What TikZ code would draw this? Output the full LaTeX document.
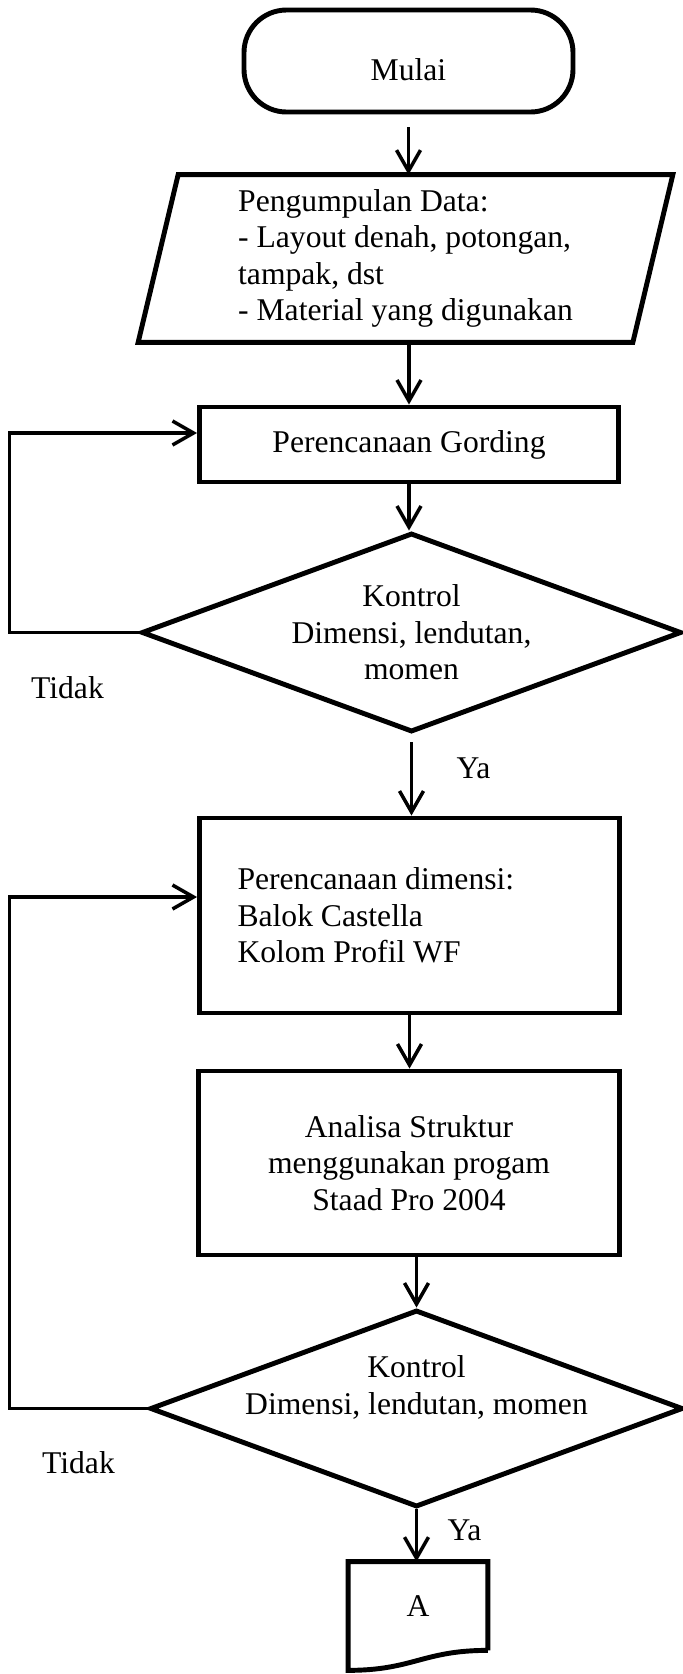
\documentclass[tikz,border=0pt]{standalone}
\usepackage{fontspec}
\setmainfont{Liberation Serif}
\usepackage{tikz}
\usetikzlibrary{shapes.geometric,arrows.meta}

\begin{document}
\begin{tikzpicture}
[font=\fontsize{18}{20.7}\selectfont]
\tikzset{
	terminal/.style = {rectangle, draw, line width = 2.8pt, rounded corners = 0.85cm, minimum width = 6.58cm, minimum height = 2.04cm, text height = 0.8cm},
	datain/.style = {rectangle, align = left, minimum width = 9.88cm, minimum height = 3.34cm},
	process/.style = {rectangle, draw, line width = 2.8pt},
	decision/.style = {diamond, draw, line width = 2.8pt, inner sep = 0pt, align = center, aspect = 2.71},
	docshape/.style = {rectangle, minimum width = 2.78cm, minimum height = 1.76cm},
	flow/.style = {line width = 2pt, -{Straight Barb[length=0.42cm,width=0.48cm]}}
}
\useasboundingbox (0,0) rectangle (13.66,-33.48);

\node(mulai) [terminal] at (8.17,-1.22) {Mulai};
\node(data) [datain] at (8.11,-5.17) {Pengumpulan Data:\\- Layout denah, potongan,\\tampak, dst\\- Material yang digunakan};
\draw [line width = 2.8pt] ([xshift=0.4cm]data.north west) -- ([xshift=0.4cm]data.north east)
	-- ([xshift=-0.4cm]data.south east) -- ([xshift=-0.4cm]data.south west) -- cycle;
\node(gording) [process, minimum width = 8.38cm, minimum height = 1.5cm] at (8.18,-8.89) {Perencanaan Gording};
\node(dk1) [decision, minimum width = 10.8cm, minimum height = 3.98cm] at (8.23,-12.65) {Kontrol\\Dimensi, lendutan,\\momen};
\node(dimensi) [process, minimum width = 8.4cm, minimum height = 3.9cm, text width = 6.88cm, align = flush left] at (8.19,-18.31) {Perencanaan dimensi:\\Balok Castella\\Kolom Profil WF};
\node(analisa) [process, minimum width = 8.42cm, minimum height = 3.68cm, align = center] at (8.18,-23.26) {Analisa Struktur\\menggunakan progam\\Staad Pro 2004};
\node(dk2) [decision, minimum width = 10.66cm, minimum height = 3.94cm] at (8.33,-28.17) {};
\node(dk2text) [align = center] at (8.33,-27.75) {Kontrol\\Dimensi, lendutan, momen};
\node(docA) [docshape] at (8.36,-32.12) {A};
\draw [line width = 2.8pt] (docA.south east) -- (docA.north east) -- (docA.north west)
	-- ([yshift=-0.4cm]docA.south west) .. controls +(1.3,0) and +(-1.3,0) .. (docA.south east);

\node(tidak1) at (1.35,-13.76) {Tidak};
\node(tidak2) at (1.57,-29.26) {Tidak};
\coordinate (rail) at (0.19,0);

% main line
\draw [flow] ([yshift=-0.26cm]mulai.south) -- (mulai.south |- data.north);
\draw [flow] (gording.north |- data.south) -- (gording.north);
\draw [flow] (gording.south) -- (gording.south |- dk1.north);
\draw [flow] ([yshift=-0.16cm]dk1.south) -- (dk1.south |- dimensi.north) node [pos=0.35, right=0.75cm] {Ya};
\draw [flow] (dimensi.south) -- (dimensi.south |- analisa.north);
\draw [flow] (dk2.north |- analisa.south) -- (dk2.north);
\draw [flow] (dk2.south) -- (dk2.south |- docA.north) node [pos=0.4, right=0.47cm] {Ya};

% loops back
\draw [flow] (dk1.west) -- (dk1.west -| rail) |- ([yshift=0.23cm]gording.west);
\draw [flow] (dk2.west) -- (dk2.west -| rail) |- ([yshift=0.37cm]dimensi.west);
\end{tikzpicture}
\end{document}
